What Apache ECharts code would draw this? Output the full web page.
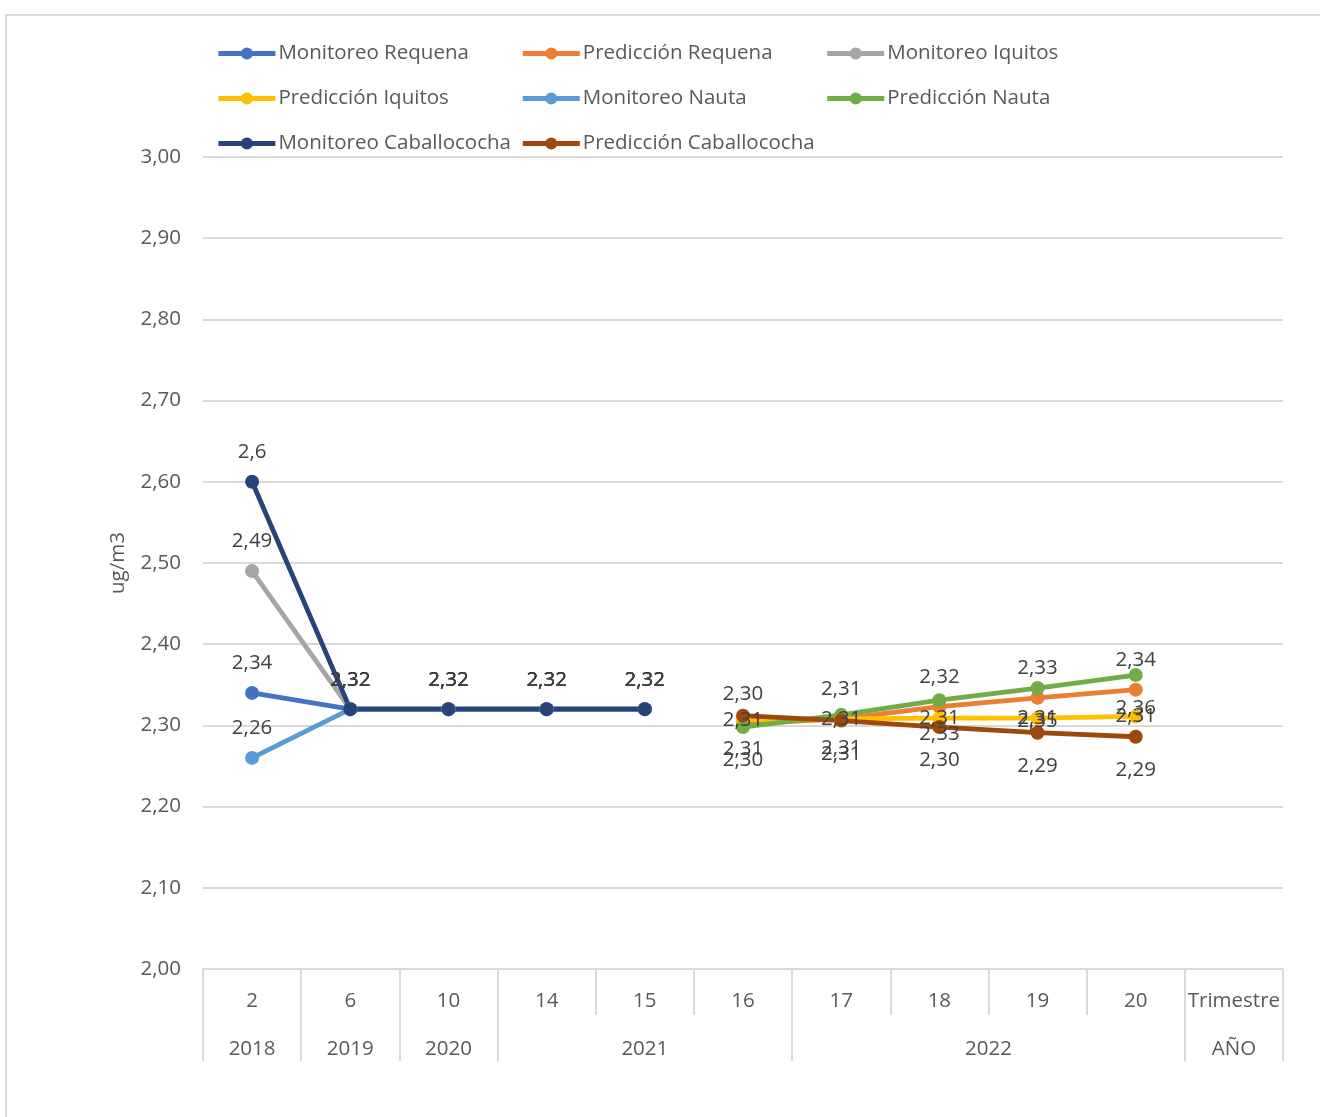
<!DOCTYPE html>
<html><head><meta charset="utf-8">
<script src="https://cdn.jsdelivr.net/npm/echarts@6/dist/echarts.min.js"></script>
<style>
html,body{margin:0;padding:0;background:#fff;overflow:hidden;width:1320px;height:1117px}
#frame{position:absolute;left:5px;top:14px;width:1400px;height:1200px;border:2px solid #d9d9d9;box-sizing:border-box}
#chart{position:absolute;left:0;top:0;width:1320px;height:1117px}
</style></head><body><div id="frame"></div><div id="chart"></div>
<script>
const quarters = ['2','6','10','14','15','16','17','18','19','20','Trimestre'];
const yearLabels = ['2018','2019','2020','2021','2022','AÑO'];
const yearSpans = [1,1,1,3,4,1];
const yTicks = [2.0,3.0,0.1]; // min, max, step

const monRequena      = [2.34,2.32,2.32,2.32,2.32,null,null,null,null,null,null];
const predRequena     = [null,null,null,null,null,2.302,2.308,2.323,2.334,2.344,null];
const monIquitos      = [2.49,2.32,2.32,2.32,2.32,null,null,null,null,null,null];
const predIquitos     = [null,null,null,null,null,2.307,2.308,2.309,2.309,2.311,null];
const monNauta        = [2.26,2.32,2.32,2.32,2.32,null,null,null,null,null,null];
const predNauta       = [null,null,null,null,null,2.298,2.313,2.331,2.346,2.362,null];
const monCaballococha = [2.60,2.32,2.32,2.32,2.32,null,null,null,null,null,null];
const predCaballococha= [null,null,null,null,null,2.312,2.306,2.298,2.291,2.286,null];

const FONT = "'Open Sans', sans-serif";
const FS = 20.5;
const TXT = '#595959';
const LBL = '#404040';
const GRID = '#d9d9d9';

// year row: boundaries and centers in half-category units
const bounds = [0]; const centers = []; const centerMap = {};
yearSpans.forEach((s, i) => {
  const start = bounds[bounds.length - 1];
  const c = start + s;
  centers.push(c); centerMap[c] = yearLabels[i];
  bounds.push(start + 2 * s);
});
const totalHalf = bounds[bounds.length - 1];

const fmtGeneral = p => p.value == null ? '' : String(+(+p.value).toFixed(2)).replace('.', ',');
const fmtFixed = p => p.value == null ? '' : (+p.value).toFixed(2).replace('.', ',');

function mk(name, data, color, labelPos, fmt, dist) {
  return {
    name, type: 'line', data, color,
    symbol: 'circle', symbolSize: 14,
    lineStyle: { width: 4.8, color },
    itemStyle: { color },
    connectNulls: false,
    emphasis: { disabled: true },
    label: {
      show: true, position: labelPos, distance: dist, formatter: fmt,
      fontFamily: FONT, fontSize: FS, color: LBL
    },
    z: 2
  };
}

const series = [
  mk('Monitoreo Requena', monRequena, '#4472C4', 'top', fmtGeneral, 12),
  mk('Predicción Requena', predRequena, '#ED7D31', 'top', fmtFixed, 12),
  mk('Monitoreo Iquitos', monIquitos, '#A5A5A5', 'top', fmtGeneral, 12),
  mk('Predicción Iquitos', predIquitos, '#FFC000', 'inside', fmtFixed, 0),
  mk('Monitoreo Nauta', monNauta, '#5B9BD5', 'top', fmtGeneral, 12),
  mk('Predicción Nauta', predNauta, '#70AD47', 'bottom', fmtFixed, 16),
  mk('Monitoreo Caballococha', monCaballococha, '#264478', 'top', fmtGeneral, 12),
  mk('Predicción Caballococha', predCaballococha, '#9E480E', 'bottom', fmtFixed, 16)
];

const chart = echarts.init(document.getElementById('chart'), null, { renderer: 'canvas' });
chart.setOption({
  animation: false,
  backgroundColor: 'transparent',
  textStyle: { fontFamily: FONT },
  legend: {
    left: 216, top: 33, width: 940, padding: 0,
    itemWidth: 57, itemHeight: 15, itemGap: 4,
    lineStyle: { width: 4.8 },
    textStyle: { fontFamily: FONT, fontSize: FS, color: TXT, width: 238, lineHeight: 41, padding: [0, 0, 0, -2] },
    data: series.map(s => s.name)
  },
  grid: { left: 203, right: 37, top: 157, bottom: 148, containLabel: false },
  xAxis: [{
    type: 'category', data: quarters, boundaryGap: true,
    axisLine: { show: true, lineStyle: { color: GRID, width: 2 } },
    axisTick: { show: true, interval: 0, length: 46, lineStyle: { color: GRID, width: 2 } },
    axisLabel: { interval: 0, margin: 22, fontFamily: FONT, fontSize: FS, color: TXT },
    splitLine: { show: false }
  }, {
    type: 'value', min: 0, max: totalHalf, position: 'bottom', offset: 46,
    axisLine: { show: false },
    axisTick: { show: true, customValues: bounds, length: 46, lineStyle: { color: GRID, width: 2 } },
    axisLabel: { show: true, customValues: centers, margin: 24, fontFamily: FONT, fontSize: FS, color: TXT,
      formatter: v => centerMap[v] || '' },
    splitLine: { show: false }
  }],
  yAxis: {
    type: 'value', min: yTicks[0], max: yTicks[1], interval: yTicks[2],
    name: 'ug/m3', nameLocation: 'middle', nameGap: 74,
    nameTextStyle: { fontFamily: FONT, fontSize: FS, color: TXT },
    axisLine: { show: false }, axisTick: { show: false },
    axisLabel: { margin: 22, fontFamily: FONT, fontSize: FS, color: TXT,
      formatter: v => v.toFixed(2).replace('.', ',') },
    splitLine: { lineStyle: { color: GRID, width: 2 } }
  },
  series
});
</script></body></html>
